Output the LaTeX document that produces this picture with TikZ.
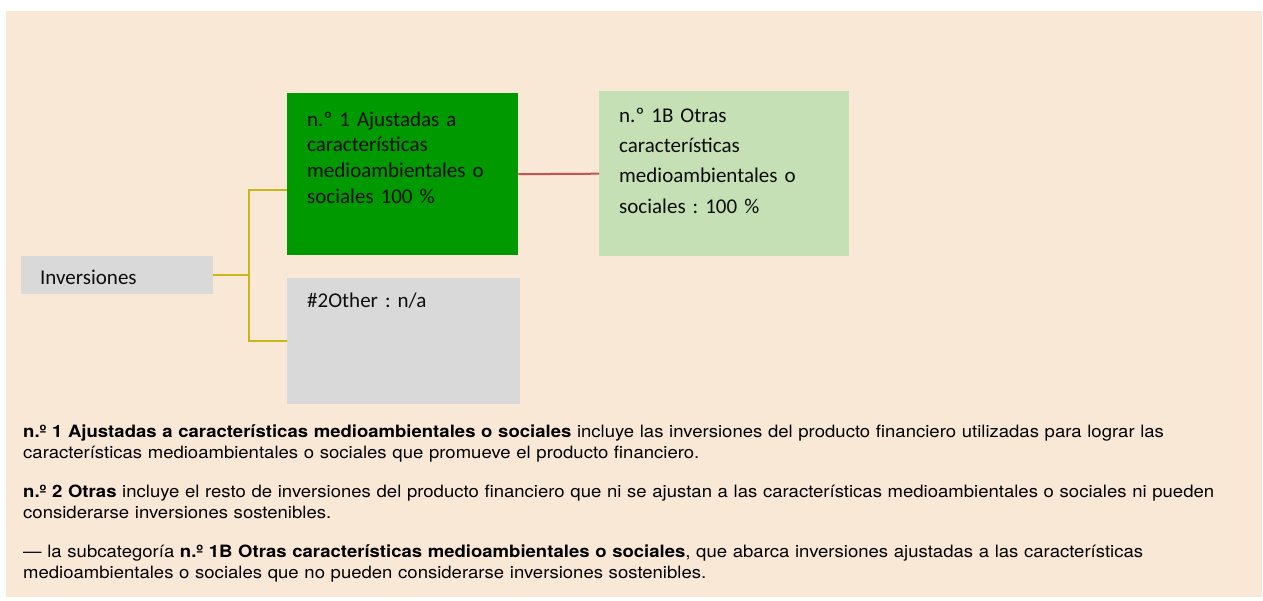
\documentclass[tikz,border=0pt]{standalone}
\usepackage{fontspec}
\setmainfont{TeX Gyre Heros}
\newfontfamily\calibri{Carlito}
\newfontfamily\notefont[FakeStretch=1.09]{TeX Gyre Heros}
\usetikzlibrary{positioning}
\frenchspacing
\definecolor{bgpeach}{RGB}{250,232,215}
\definecolor{boxgreen}{RGB}{0,153,0}
\definecolor{boxlight}{RGB}{197,224,180}
\definecolor{boxgray}{RGB}{217,217,217}
\definecolor{lineyellow}{RGB}{201,183,25}
\definecolor{linered}{RGB}{200,80,77}
\tikzstyle{block} = [rectangle, anchor=north west, align=left, inner xsep=20pt, inner ysep=0pt, text=black!95]
\tikzstyle{root} = [block, fill=boxgray, inner xsep=19pt, text width=154pt, text height=28pt, text depth=10pt, font=\calibri\fontsize{21}{25.7}\selectfont]
\tikzstyle{aligned} = [block, fill=boxgreen, text width=191pt, text height=33pt, text depth=129pt, font=\calibri\fontsize{21}{25.7}\selectfont]
\tikzstyle{other} = [block, fill=boxgray, text width=193pt, text height=30pt, text depth=96pt, font=\calibri\fontsize{21}{25.7}\selectfont]
\tikzstyle{subcat} = [block, fill=boxlight, text width=210pt, text height=31pt, text depth=134pt, font=\calibri\fontsize{21}{30.3}\selectfont]
\tikzstyle{note} = [anchor=base west, align=left, inner sep=0pt, text width=1235pt, font=\notefont\fontsize{17}{21}\selectfont]
\tikzstyle{branch} = [lineyellow, line width=2pt]
\tikzstyle{link} = [linered, line width=2pt]

\begin{document}
\begin{tikzpicture}[x=1pt, y=-1pt]
  \useasboundingbox (0,0) rectangle (1263,601);
  \fill[bgpeach] (6,11) rectangle (1262,597);

  \node (inv) [root] at (21,256) {Inversiones};
  \node (nr1) [aligned] at (287,93) {n.º 1 Ajustadas a\\ características\\ medioambientales o\\ sociales 100 \%};
  \node (nr2) [other, below=22pt of nr1.south west, anchor=north west] {\#2Other : n/a};
  \node (nr1b) [subcat] at (599,91) {n.º 1B Otras\\ características\\ medioambientales o\\ sociales : 100 \%};

  \draw [branch] (inv.east) -- ++(36,0) coordinate (fork) |- ([yshift=-16pt]nr1.west);
  \draw [branch] (fork) |- (nr2.west);
  \draw [link] (nr1.east) -- (nr1b.west);

  \node (notes) [note] at (23,437) {\textbf{n.º 1 Ajustadas a características medioambientales o sociales} incluye las inversiones del producto financiero utilizadas para lograr las\\
    características medioambientales o sociales que promueve el producto financiero.\\[18pt]
    \textbf{n.º 2 Otras} incluye el resto de inversiones del producto financiero que ni se ajustan a las características medioambientales o sociales ni pueden\\
    considerarse inversiones sostenibles.\\[18pt]
    — la subcategoría \textbf{n.º 1B Otras características medioambientales o sociales}, que abarca inversiones ajustadas a las características\\
    medioambientales o sociales que no pueden considerarse inversiones sostenibles.};
\end{tikzpicture}
\end{document}
